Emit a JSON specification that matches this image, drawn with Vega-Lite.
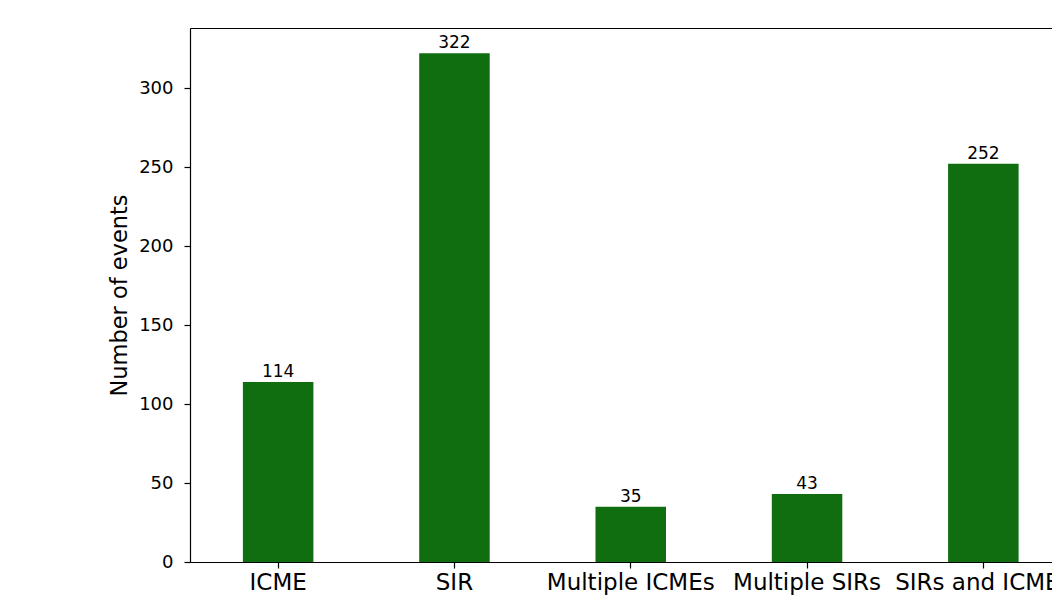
{
  "$schema": "https://vega.github.io/schema/vega-lite/v6.json",
  "autosize": {"type": "none"},
  "padding": {"left": 190, "top": 28, "right": 0, "bottom": 33},
  "width": 862,
  "height": 534,
  "background": "white",
  "config": {
    "view": {"stroke": null},
    "font": "DejaVu Sans",
    "axis": {"grid": false, "domainColor": "black", "tickColor": "black", "labelColor": "black", "titleColor": "black", "labelFont": "DejaVu Sans", "titleFont": "DejaVu Sans", "titleFontWeight": "normal", "domainWidth": 1.2, "tickWidth": 1.2}
  },
  "data": {"values": [
    {"category": "ICME", "count": 114},
    {"category": "SIR", "count": 322},
    {"category": "Multiple ICMEs", "count": 35},
    {"category": "Multiple SIRs", "count": 43},
    {"category": "SIRs and ICMEs", "count": 252}
  ]},
  "resolve": {"axis": {"x": "independent"}},
  "encoding": {
    "y": {"field": "count", "type": "quantitative", "scale": {"domain": [0, 338], "nice": false, "zero": true},
      "axis": {"title": "Number of events", "values": [0, 50, 100, 150, 200, 250, 300], "labelFontSize": 18, "titleFontSize": 22.5, "tickSize": 6, "labelPadding": 11, "titlePadding": 7}}
  },
  "layer": [
    {
      "mark": {"type": "bar", "color": "#106e10"},
      "encoding": {
        "x": {"field": "category", "type": "nominal", "sort": null,
          "scale": {"range": [0, 881.5], "paddingInner": 0.6, "paddingOuter": 0.3},
          "axis": {"orient": "bottom", "title": null, "labelAngle": 0, "labelFontSize": 23, "tickSize": 6, "labelPadding": 3}}
      }
    },
    {
      "mark": {"type": "text", "baseline": "alphabetic", "dy": -5, "fontSize": 17, "color": "black", "font": "DejaVu Sans"},
      "encoding": {
        "x": {"field": "category", "type": "nominal", "sort": null,
          "axis": {"orient": "top", "title": null, "labels": false, "ticks": false, "domain": true}},
        "text": {"field": "count", "type": "quantitative"}
      }
    }
  ]
}
